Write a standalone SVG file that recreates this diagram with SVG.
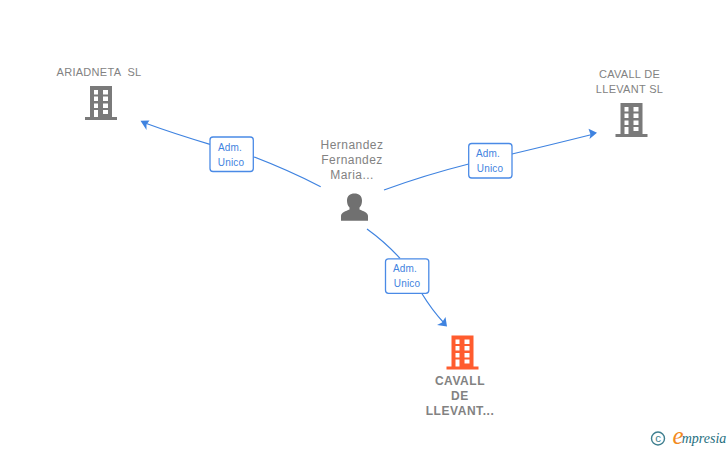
<svg xmlns="http://www.w3.org/2000/svg" width="728" height="450" viewBox="0 0 728 450">
<style>
text{font-family:"Liberation Sans",Arial,sans-serif;text-anchor:middle}
.co{font-size:11px;fill:#828282;letter-spacing:.3px}
.pe{font-size:12px;fill:#828282;letter-spacing:.45px}
.fo{font-size:12px;fill:#828282;font-weight:bold;letter-spacing:.55px}
.lb{font-size:10px;fill:#3f83e0;letter-spacing:.15px}
.edge{fill:none;stroke:#3f83e0;stroke-width:1.200}
.box{fill:#fff;stroke:#4a8ae6;stroke-width:1.300}
.head{fill:#3f83e0}
</style>
<defs>
<g id="bld">
<path fill-rule="evenodd" d="M0 31H5V0H27V31H32V34H0ZM9 4V8.500H13V4ZM18 4V8.500H23V4ZM9 10.500V15H13V10.500ZM18 10.500V15H23V10.500ZM9 17.500V22H13V17.500ZM18 17.500V22H23V17.500ZM9 24V31H13V24ZM18 24V28H23V24Z"/>
</g>
</defs>
<g id="connectors">
<path class="edge" d="M320.700 186.700Q288 170 253.300 156.700"/>
<path class="edge" d="M210 144.300Q175 134 145 123"/>
<path class="head" d="M140.500 120.700L149.500 120.500L146.500 124.500L146.500 130Z"/>
<path class="edge" d="M384 190Q425 175 468.700 164"/>
<path class="edge" d="M512 154Q550 145 592 134.500"/>
<path class="head" d="M597 132.800L588.500 128.800L590.500 134.500L589.500 139Z"/>
<path class="edge" d="M367 229Q385 242 400 258.300"/>
<path class="edge" d="M422 293.700Q432 310 444 323"/>
<path class="head" d="M447 326.500L445.500 317L442 322.500L437 325Z"/>
<g>
<rect class="box" x="210" y="137" width="43.300" height="34.500" rx="3"/>
<text class="lb" x="230" y="150.500">Adm.</text>
<text class="lb" x="231" y="165.500">Unico</text>
</g>
<g>
<rect class="box" x="468.700" y="143.500" width="43.300" height="34.500" rx="3"/>
<text class="lb" x="488" y="157">Adm.</text>
<text class="lb" x="490" y="172">Unico</text>
</g>
<g>
<rect class="box" x="385.500" y="258.800" width="43.300" height="34.500" rx="3"/>
<text class="lb" x="405" y="272">Adm.</text>
<text class="lb" x="407" y="287">Unico</text>
</g>
</g>
<g id="node-ariadneta">
<text class="co" x="99" y="75.500" xml:space="preserve">ARIADNETA  SL</text>
<use href="#bld" x="85" y="86" fill="#7a7a7a"/>
</g>
<g id="node-cavall-sl">
<text class="co" x="629.500" y="77.500">CAVALL DE</text>
<text class="co" x="629.500" y="92.500">LLEVANT SL</text>
<use href="#bld" x="615.500" y="103" fill="#7a7a7a"/>
</g>
<g id="node-person">
<text class="pe" x="352" y="149">Hernandez</text>
<text class="pe" x="352" y="164">Fernandez</text>
<text class="pe" x="352" y="179">Maria...</text>
<path fill="#707070" d="M341 220.800V216C341 212.500 346 211 349.500 209.500V207.500C347.500 205.500 347 203 347 200.500C347 196 350 193.500 354.500 193.500C359 193.500 362 196 362 200.500C362 203 361.500 205.500 359.500 207.500V209.500C363 211 368 212.500 368 216V220.800Z"/>
</g>
<g id="node-cavall-focus">
<use href="#bld" x="446.500" y="335.500" fill="#ff5c2e"/>
<text class="fo" x="460" y="385">CAVALL</text>
<text class="fo" x="460" y="400">DE</text>
<text class="fo" x="460" y="415">LLEVANT...</text>
</g>
<g id="logo">
<circle cx="658" cy="438.500" r="6.500" fill="none" stroke="#3f7f8f" stroke-width="1.400"/>
<text x="658" y="442" style="font-size:11.500px;fill:#3f7f8f">c</text>
<text x="678" y="444" style="font-family:'Liberation Serif',serif;font-size:25px;font-style:italic;fill:#f28a1e">e</text>
<text x="704" y="443" style="font-family:'Liberation Serif',serif;font-size:14px;font-style:italic;fill:#1f6f80">mpresia</text>
</g>
</svg>
